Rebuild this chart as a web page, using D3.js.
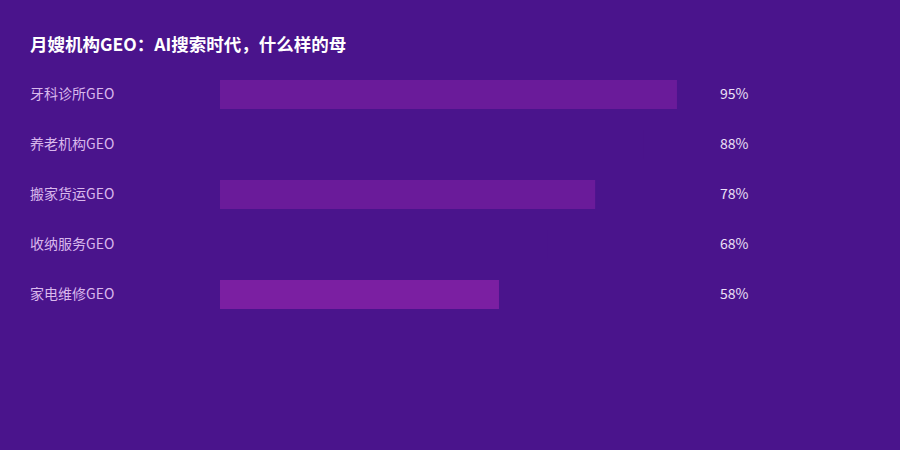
<!DOCTYPE html>
<html>
<head>
<meta charset="utf-8">
<script src="https://cdn.jsdelivr.net/npm/d3@7"></script>
<style>
  html, body { margin: 0; padding: 0; background: #4a148c; }
  text { font-family: "Noto Sans CJK SC", "Noto Sans", sans-serif; }
</style>
</head>
<body>
<div id="chart"></div>
<script>
const title = "月嫂机构GEO：AI搜索时代，什么样的母";
const categories = ["牙科诊所GEO", "养老机构GEO", "搬家货运GEO", "收纳服务GEO", "家电维修GEO"];
const values = [95, 88, 78, 68, 58];
const barColors = ["#6a1b9a", "#4a148c", "#6a1b9a", "#4a148c", "#7b1fa2"];

const width = 900, height = 450;

const svg = d3.select("#chart").append("svg")
    .attr("width", width)
    .attr("height", height);

svg.append("rect")
    .attr("width", width)
    .attr("height", height)
    .attr("fill", "#4a148c");

svg.append("text")
    .attr("x", 30)
    .attr("y", 51)
    .attr("fill", "#ffffff")
    .attr("font-size", 17.5)
    .attr("font-weight", "bold")
    .text(title);

const rows = categories.map((c, i) => ({ name: c, value: values[i], color: barColors[i] }));

const x = d3.scaleLinear().domain([0, 100]).range([220, 701]);
const y = d3.scaleBand()
    .domain(categories)
    .range([69.5, 319.5])
    .paddingInner(0.42)
    .paddingOuter(0.21);

svg.append("g")
    .selectAll("rect")
    .data(rows)
    .join("rect")
    .attr("x", x(0))
    .attr("y", d => y(d.name))
    .attr("width", d => x(d.value) - x(0))
    .attr("height", y.bandwidth())
    .attr("fill", d => d.color);

svg.append("g")
    .selectAll("text")
    .data(rows)
    .join("text")
    .attr("x", 30)
    .attr("y", d => y(d.name) + y.bandwidth() / 2)
    .attr("dy", "0.35em")
    .attr("font-size", 14)
    .attr("fill", "#d9b8ec")
    .text(d => d.name);

svg.append("g")
    .selectAll("text")
    .data(rows)
    .join("text")
    .attr("x", 720)
    .attr("y", d => y(d.name) + y.bandwidth() / 2)
    .attr("dy", "0.35em")
    .attr("font-size", 14)
    .attr("fill", "#ece0f6")
    .text(d => d.value + "%");
</script>
</body>
</html>
